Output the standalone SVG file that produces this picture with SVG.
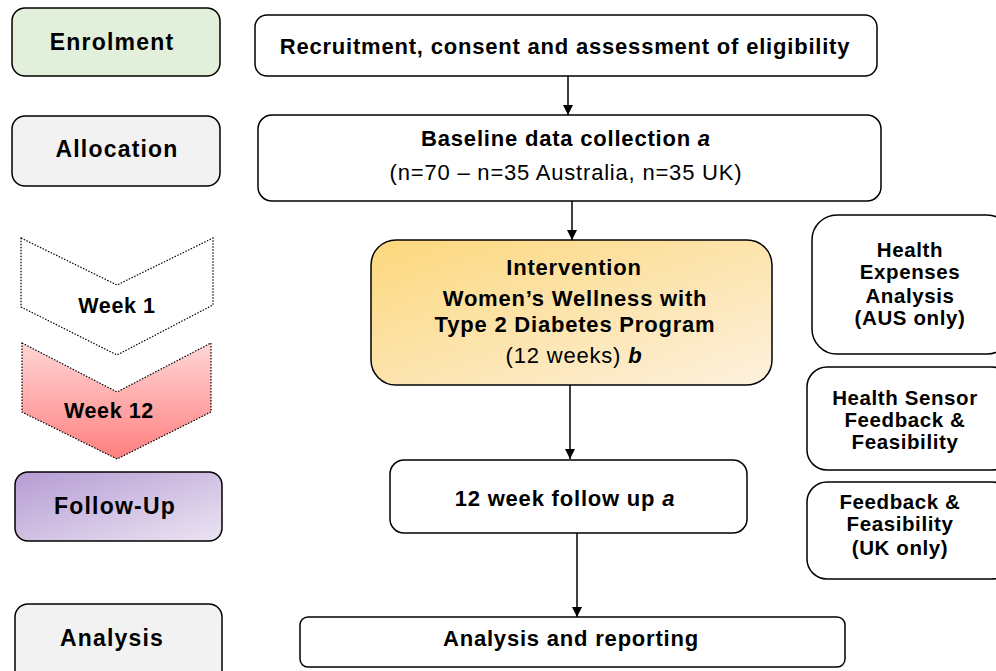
<svg xmlns="http://www.w3.org/2000/svg" width="996" height="671" viewBox="0 0 996 671">
<defs>
<linearGradient id="gInt" x1="0" y1="0" x2="1" y2="1">
<stop offset="0" stop-color="#fcd77c"/>
<stop offset="1" stop-color="#fdf1de"/>
</linearGradient>
<linearGradient id="gWk12" x1="0" y1="0" x2="0" y2="1">
<stop offset="0" stop-color="#ffd6d6"/>
<stop offset="1" stop-color="#ff7f7f"/>
</linearGradient>
<linearGradient id="gFu" x1="0" y1="0" x2="1" y2="1">
<stop offset="0" stop-color="#b69cd4"/>
<stop offset="1" stop-color="#ebe4f2"/>
</linearGradient>
<marker id="ah" viewBox="0 0 10 10" refX="10" refY="5" markerWidth="10" markerHeight="10" markerUnits="userSpaceOnUse" orient="auto">
<path d="M0,0 L10,5 L0,10 Z" fill="#000"/>
</marker>
</defs>
<style>
.box{stroke:#000;stroke-width:1.5;fill:#fff}
.t{font-family:"Liberation Sans",Arial,sans-serif;fill:#000;text-anchor:middle}
.b{font-weight:bold}
.lab{font-size:23px;font-weight:bold;letter-spacing:1.2px}
.main{font-size:22px;letter-spacing:0.8px}
.side{font-size:20.5px;font-weight:bold;letter-spacing:0.6px}
.wk{font-size:21.5px;font-weight:bold;letter-spacing:0.6px}
.conn{stroke:#000;stroke-width:1.5;fill:none}
</style>
<rect width="996" height="671" fill="#fff"/>

<g id="enrolment">
<rect class="box" x="12" y="8" width="208" height="68" rx="13" style="fill:#e2efda"/>
<text class="t lab" x="112" y="50">Enrolment</text>
</g>
<g id="allocation">
<rect class="box" x="12" y="116" width="208" height="70" rx="13" style="fill:#f2f2f2"/>
<text class="t lab" x="117" y="157">Allocation</text>
</g>
<g id="week1">
<path d="M21,238 L117,285 L213,238 L213,305 L117,355 L21,307 Z" fill="#fff" stroke="#000" stroke-width="1.2" stroke-dasharray="1.5,1.5"/>
<text class="t wk" x="117" y="313">Week 1</text>
</g>
<g id="week12">
<path d="M22,343 L117,392 L211,343 L211,412 L117,459 L22,412 Z" fill="url(#gWk12)" stroke="#000" stroke-width="1.2" stroke-dasharray="1.5,1.5"/>
<text class="t wk" x="109" y="418">Week 12</text>
</g>
<g id="followup-label">
<rect class="box" x="15" y="472" width="207" height="69" rx="13" style="fill:url(#gFu)"/>
<text class="t lab" x="115" y="514">Follow-Up</text>
</g>
<g id="analysis-label">
<rect class="box" x="15" y="604" width="207" height="80" rx="13" style="fill:#f2f2f2"/>
<text class="t lab" x="112" y="646">Analysis</text>
</g>

<g id="recruitment">
<rect class="box" x="255" y="15" width="622" height="61" rx="12"/>
<text class="t main b" x="565" y="54">Recruitment, consent and assessment of eligibility</text>
</g>
<g id="baseline">
<rect class="box" x="258" y="115" width="623" height="86" rx="14"/>
<text class="t main b" x="566" y="146">Baseline data collection <tspan font-style="italic">a</tspan></text>
<text class="t main" x="566" y="180">(n=70 – n=35 Australia, n=35 UK)</text>
</g>
<g id="intervention">
<rect class="box" x="371" y="240" width="401" height="145" rx="25" style="fill:url(#gInt)"/>
<text class="t main b" x="574" y="275">Intervention</text>
<text class="t main b" x="575" y="306">Women’s Wellness with</text>
<text class="t main b" x="575" y="332">Type 2 Diabetes Program</text>
<text class="t main" x="574" y="363">(12 weeks) <tspan font-weight="bold" font-style="italic">b</tspan></text>
</g>
<g id="followup">
<rect class="box" x="390" y="460" width="357" height="73" rx="14"/>
<text class="t main b" x="565" y="506">12 week follow up <tspan font-style="italic">a</tspan></text>
</g>
<g id="analysis">
<rect class="box" x="300" y="617" width="545" height="50" rx="8"/>
<text class="t main b" x="571" y="646">Analysis and reporting</text>
</g>

<g id="health-expenses">
<rect class="box" x="812" y="215" width="200" height="139" rx="25"/>
<text class="t side" x="910" y="257">Health</text>
<text class="t side" x="910" y="279">Expenses</text>
<text class="t side" x="910" y="303">Analysis</text>
<text class="t side" x="910" y="325">(AUS only)</text>
</g>
<g id="health-sensor">
<rect class="box" x="807" y="367" width="205" height="103" rx="20"/>
<text class="t side" x="905" y="405">Health Sensor</text>
<text class="t side" x="905" y="427">Feedback &amp;</text>
<text class="t side" x="905" y="449">Feasibility</text>
</g>
<g id="feedback-uk">
<rect class="box" x="807" y="482" width="205" height="97" rx="20"/>
<text class="t side" x="900" y="509">Feedback &amp;</text>
<text class="t side" x="900" y="531">Feasibility</text>
<text class="t side" x="900" y="555">(UK only)</text>
</g>

<g id="connectors">
<line class="conn" x1="568" y1="76" x2="568" y2="115" marker-end="url(#ah)"/>
<line class="conn" x1="572" y1="201" x2="572" y2="240" marker-end="url(#ah)"/>
<line class="conn" x1="570" y1="385" x2="570" y2="459" marker-end="url(#ah)"/>
<line class="conn" x1="577" y1="533" x2="577" y2="617" marker-end="url(#ah)"/>
</g>
</svg>
